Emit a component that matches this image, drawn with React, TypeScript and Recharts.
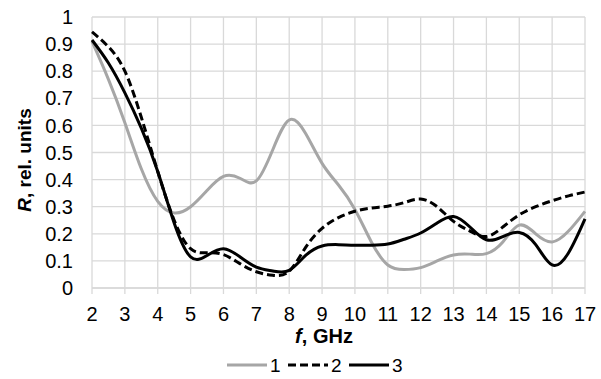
import { LineChart, Line, XAxis, YAxis, CartesianGrid } from "recharts";

const freq = [
  2, 2.5, 3, 3.5, 4, 4.5, 5, 5.5, 6, 6.5, 7, 7.5, 8, 8.5, 9, 9.5, 10, 10.5, 11, 11.5, 12, 12.5, 13,
  13.5, 14, 14.5, 15, 15.5, 16, 16.5, 17,
];
const curve1 = [
  0.91, 0.77, 0.61, 0.44, 0.32, 0.277, 0.3, 0.36, 0.412, 0.405, 0.395, 0.51, 0.62, 0.57, 0.46, 0.38,
  0.29, 0.17, 0.085, 0.068, 0.075, 0.1, 0.122, 0.125, 0.127, 0.17, 0.232, 0.2, 0.17, 0.21, 0.283,
];
const curve2 = [
  0.945, 0.89, 0.8, 0.63, 0.43, 0.25, 0.145, 0.13, 0.123, 0.09, 0.06, 0.047, 0.062, 0.15, 0.22, 0.26,
  0.283, 0.295, 0.302, 0.315, 0.328, 0.3, 0.246, 0.21, 0.19, 0.225, 0.27, 0.3, 0.322, 0.34, 0.354,
];
const curve3 = [
  0.915, 0.83, 0.72, 0.59, 0.43, 0.24, 0.115, 0.12, 0.145, 0.115, 0.077, 0.063, 0.065, 0.12, 0.155,
  0.16, 0.158, 0.158, 0.162, 0.18, 0.203, 0.24, 0.264, 0.225, 0.178, 0.19, 0.205, 0.16, 0.085, 0.13,
  0.255,
];
const xTicks = [2, 3, 4, 5, 6, 7, 8, 9, 10, 11, 12, 13, 14, 15, 16, 17];
const yTicks = [0, 0.1, 0.2, 0.3, 0.4, 0.5, 0.6, 0.7, 0.8, 0.9, 1];

const data = freq.map((f, i) => ({ f, s1: curve1[i], s2: curve2[i], s3: curve3[i] }));

const FONT = "'Liberation Sans', Arial, sans-serif";
const GRID = "#d9d9d9";
const GRAY = "#a6a6a6";

const legendItems = [
  { name: "1", color: GRAY, dash: undefined as string | undefined },
  { name: "2", color: "#000", dash: "8 4" },
  { name: "3", color: "#000", dash: undefined },
];

function BottomLegend() {
  return (
    <g>
      {legendItems.map((it, i) => {
        const x0 = 227 + i * 61;
        return (
          <g key={it.name}>
            <line x1={x0} x2={x0 + 40} y1={365} y2={365} stroke={it.color} strokeWidth={3} strokeDasharray={it.dash} />
            <text x={x0 + 43} y={372} fontSize={19} fontFamily={FONT} fill="#000">
              {it.name}
            </text>
          </g>
        );
      })}
    </g>
  );
}

export default function App() {
  return (
    <div style={{ position: "absolute", left: 0, top: 0, width: 601, height: 379, background: "#fff" }}>
      <LineChart width={601} height={379} data={data} margin={{ top: 17, right: 16, bottom: 0, left: 0 }}>
        <CartesianGrid stroke={GRID} strokeWidth={1.3} horizontal vertical />
        <XAxis
          dataKey="f"
          type="number"
          domain={[2, 17]}
          ticks={xTicks}
          interval={0}
          axisLine={{ stroke: GRID, strokeWidth: 1.3 }}
          tickLine={{ stroke: GRID, strokeWidth: 1.3 }}
          tickSize={6}
          tickMargin={13}
          height={91}
          tick={{ fontSize: 20, fontFamily: FONT, fill: "#000" }}
          label={{
            content: () => (
              <text x={324} y={343} textAnchor="middle" fontSize={20} fontWeight="bold" fontFamily={FONT} fill="#000">
                <tspan fontStyle="italic">f</tspan>, GHz
              </text>
            ),
          }}
        />
        <YAxis
          type="number"
          domain={[0, 1]}
          ticks={yTicks}
          interval={0}
          width={92}
          axisLine={false}
          tickLine={false}
          tickSize={0}
          tickMargin={19}
          tick={{ fontSize: 20, fontFamily: FONT, fill: "#000" }}
          tickFormatter={(v: number) => String(Math.round(v * 10) / 10)}
          label={{
            content: () => (
              <text
                x={31}
                y={160}
                transform="rotate(-90, 31, 160)"
                textAnchor="middle"
                fontSize={19}
                fontWeight="bold"
                fontFamily={FONT}
                fill="#000"
              >
                <tspan fontStyle="italic">R</tspan>, rel. units
              </text>
            ),
          }}
        />
        <Line type="natural" dataKey="s1" stroke={GRAY} strokeWidth={3} dot={false} isAnimationActive={false} />
        <Line type="natural" dataKey="s2" stroke="#000" strokeWidth={3} strokeDasharray="8 4" dot={false} isAnimationActive={false} />
        <Line type="natural" dataKey="s3" stroke="#000" strokeWidth={3} dot={false} isAnimationActive={false} />
        <BottomLegend />
      </LineChart>
    </div>
  );
}
